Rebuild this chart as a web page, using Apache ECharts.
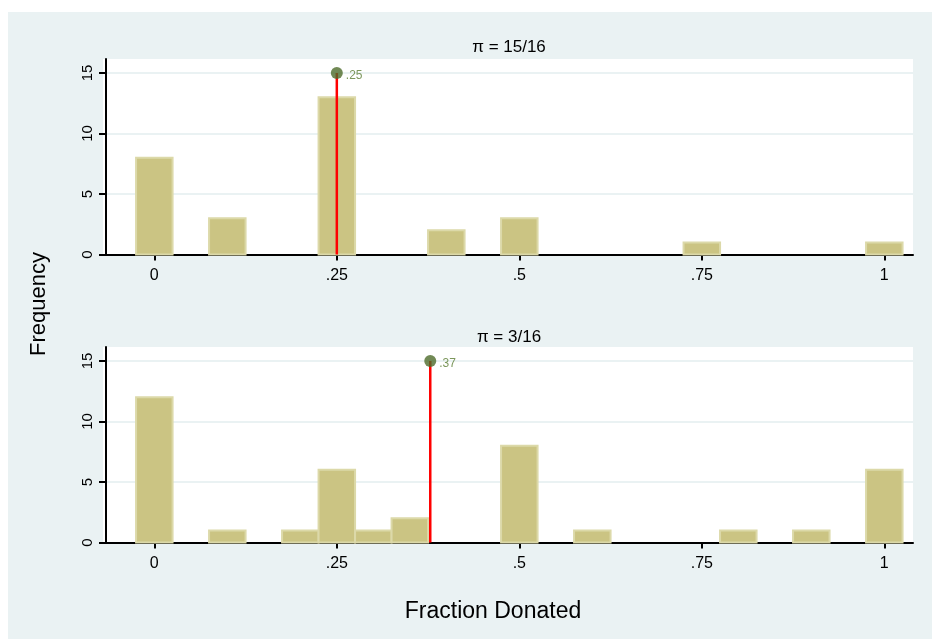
<!DOCTYPE html>
<html>
<head>
<meta charset="utf-8">
<script src="https://cdn.jsdelivr.net/npm/echarts@6/dist/echarts.min.js"></script>
<style>
  html, body { margin: 0; padding: 0; background: #fff; }
  #chart { width: 932px; height: 639px; }
</style>
</head>
<body>
<div id="chart"></div>
<script>
// histogram bins (centre of each bar) and frequencies, one pair per panel
const binsTop = [0, 0.1, 0.25, 0.4, 0.5, 0.75, 1];
const freqTop = [8, 3, 13, 2, 3, 1, 1];
const binsBottom = [0, 0.1, 0.2, 0.25, 0.3, 0.35, 0.5, 0.6, 0.8, 0.9, 1];
const freqBottom = [12, 1, 1, 6, 1, 2, 8, 1, 1, 1, 6];
const binWidth = 0.05;

// red spike + dot in each panel
const markX = [0.25, 0.378];
const markY = 15;
const markLabels = [".25", ".37"];

const panelTitles = ["\u03c0 = 15/16", "\u03c0 = 3/16"];
const xTicks = [0, 0.25, 0.5, 0.75, 1];
const yTicks = [0, 5, 10, 15];

const FONT = "'Liberation Sans', Arial, Helvetica, sans-serif";
const BG = "#eaf2f3";
const BAR_FILL = "#cbc483";
const BAR_EDGE = "#dcd9a9";

const chart = echarts.init(document.getElementById("chart"));

const fmtX = (v) => (v === 0 ? "0" : v === 1 ? "1" : String(v).replace(/^0/, ""));

function renderBar(params, api) {
  const x = api.value(0);
  const v = api.value(1);
  const p0 = api.coord([x - binWidth / 2, v]);
  const p1 = api.coord([x + binWidth / 2, 0]);
  return {
    type: "rect",
    shape: { x: p0[0], y: p0[1], width: p1[0] - p0[0], height: p1[1] - p0[1] },
    style: { fill: BAR_FILL, stroke: BAR_EDGE, lineWidth: 2 },
  };
}

const grids = [
  { left: 103, right: 19, top: 59, height: 195.5 },
  { left: 103, right: 19, top: 347, height: 195.5 },
];

function xAxis(i) {
  return {
    type: "value",
    gridIndex: i,
    min: -0.0703,
    max: 1.0393,
    axisLine: { show: true, onZero: false, lineStyle: { color: "#000", width: 2 } },
    axisTick: { show: true, length: 6, customValues: xTicks, lineStyle: { color: "#000", width: 2 } },
    axisLabel: { customValues: xTicks, formatter: fmtX, color: "#000", fontSize: 16, fontFamily: FONT, margin: 13 },
    splitLine: { show: false },
  };
}

function yAxis(i) {
  return {
    type: "value",
    gridIndex: i,
    min: 0,
    max: 16.15,
    offset: -3,
    axisLine: { show: true, onZero: false, lineStyle: { color: "#000", width: 2 } },
    axisTick: { show: true, length: 7, customValues: yTicks, lineStyle: { color: "#000", width: 2 } },
    axisLabel: { customValues: yTicks, rotate: 90, color: "#000", fontSize: 15, fontFamily: FONT, margin: 11 },
    splitLine: { show: true, lineStyle: { color: BG, width: 2 } },
  };
}

const series = [];
[[binsTop, freqTop], [binsBottom, freqBottom]].forEach(([bins, freq], i) => {
  series.push({
    type: "custom",
    xAxisIndex: i,
    yAxisIndex: i,
    renderItem: renderBar,
    data: bins.map((b, j) => [b, freq[j]]),
    z: 2,
  });
  series.push({
    type: "line",
    xAxisIndex: i,
    yAxisIndex: i,
    data: [[markX[i], 0], [markX[i], markY]],
    symbol: "none",
    lineStyle: { color: "#ff0000", width: 2.5 },
    z: 3,
  });
  series.push({
    type: "scatter",
    xAxisIndex: i,
    yAxisIndex: i,
    data: [[markX[i], markY]],
    symbolSize: 12,
    itemStyle: { color: "#4e6b2b" },
    label: {
      show: true,
      position: "right",
      distance: 3,
      offset: [0, 3],
      formatter: () => markLabels[i],
      color: "#5b7d33",
      fontSize: 12,
      fontFamily: FONT,
    },
    z: 4,
  });
});

const texts = [
  { x: 509, y: 47, text: panelTitles[0], size: 17 },
  { x: 509, y: 337, text: panelTitles[1], size: 17 },
  { x: 493, y: 612, text: "Fraction Donated", size: 23 },
];

chart.setOption({
  animation: false,
  backgroundColor: "#fff",
  grid: grids.map((g) => Object.assign({ show: true, backgroundColor: "#fff", borderWidth: 0 }, g)),
  xAxis: [xAxis(0), xAxis(1)],
  yAxis: [yAxis(0), yAxis(1)],
  series: series,
  graphic: [
    { type: "rect", z: -10, silent: true, shape: { x: 8, y: 12, width: 924, height: 627 }, style: { fill: BG } },
    ...texts.map((t) => ({
      type: "text",
      x: t.x,
      y: t.y,
      style: { text: t.text, fill: "#000", font: t.size + "px " + FONT, align: "center", verticalAlign: "middle" },
    })),
    {
      type: "text",
      x: 39,
      y: 304,
      rotation: Math.PI / 2,
      style: { text: "Frequency", fill: "#000", font: "22px " + FONT, align: "center", verticalAlign: "middle" },
    },
  ],
});
</script>
</body>
</html>
